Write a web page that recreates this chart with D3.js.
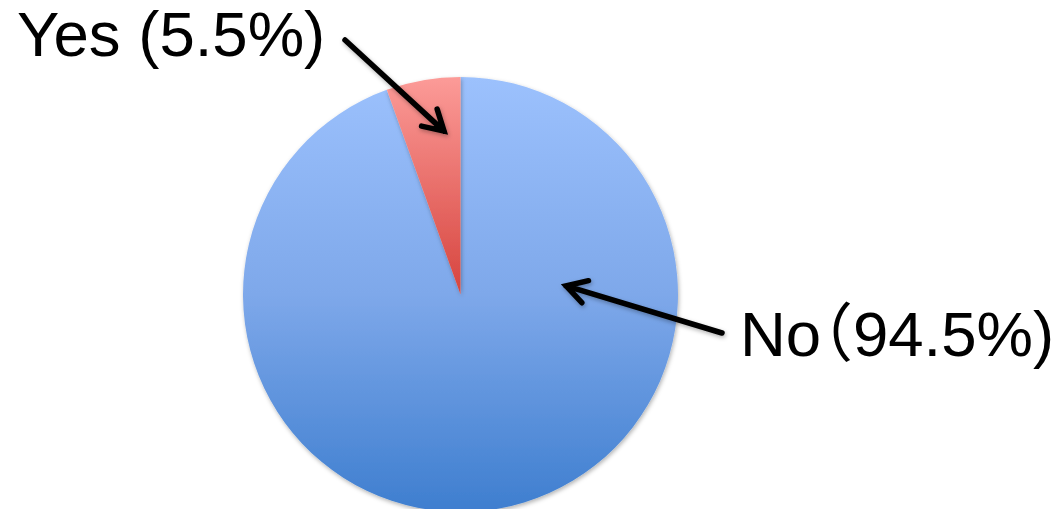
<!DOCTYPE html>
<html>
<head>
<meta charset="utf-8">
<script src="https://cdn.jsdelivr.net/npm/d3@7"></script>
<style>
  html, body { margin: 0; padding: 0; background: #ffffff; }
  svg { display: block; }
  .halt { font-feature-settings: "halt" 1; }
</style>
</head>
<body>
<svg id="chart" width="1059" height="509"></svg>
<script>
// ---- data ----
const categories = ["No", "Yes"];
const values = [94.5, 5.5];
const labels = ["No", "Yes"];

// ---- layout ----
const W = 1059, H = 509;
const cx = 460.5, cy = 294.5, R = 217.5;

const svg = d3.select("#chart");
const defs = svg.append("defs");

// gradients (blue spans the whole pie, in the translated group's user space)
const gBlue = defs.append("linearGradient").attr("id", "gBlue")
  .attr("gradientUnits", "userSpaceOnUse")
  .attr("x1", 0).attr("y1", -R).attr("x2", 0).attr("y2", R);
gBlue.append("stop").attr("offset", "0%").attr("stop-color", "#9cc1fd");
gBlue.append("stop").attr("offset", "50%").attr("stop-color", "#7ea8ea");
gBlue.append("stop").attr("offset", "100%").attr("stop-color", "#3e7ecf");

const gRed = defs.append("linearGradient").attr("id", "gRed")
  .attr("x1", 0).attr("y1", 0).attr("x2", 0).attr("y2", 1);
gRed.append("stop").attr("offset", "0%").attr("stop-color", "#fc9b98");
gRed.append("stop").attr("offset", "100%").attr("stop-color", "#d6443e");

const shadow = defs.append("filter").attr("id", "shadow")
  .attr("x", "-20%").attr("y", "-20%").attr("width", "140%").attr("height", "140%");
shadow.append("feDropShadow").attr("dx", 1).attr("dy", 2).attr("stdDeviation", 2)
  .attr("flood-color", "#000").attr("flood-opacity", 0.3);

const fills = { "No": "url(#gBlue)", "Yes": "url(#gRed)" };

const pie = d3.pie().sort(null).value(d => d.v);
const arc = d3.arc().innerRadius(0).outerRadius(R);
const data = categories.map((c, i) => ({ c, v: values[i] }));

const g = svg.append("g").attr("transform", `translate(${cx},${cy})`);
g.selectAll("path.slice").data(pie(data)).enter().append("path")
  .attr("class", "slice")
  .attr("d", arc)
  .attr("fill", d => fills[d.data.c])
  .attr("filter", "url(#shadow)");

// ---- annotations: tip given in polar (angle rad, radius fraction), tail in px ----
const annotations = [
  { tipAngle: -0.1005, tipR: 0.755, tail: [345, 40] },
  { tipAngle: 1.490, tipR: 0.487, tail: [722, 333] }
];

const arrows = svg.append("g").attr("filter", "url(#shadow)");
annotations.forEach(a => {
  const tx = cx + Math.sin(a.tipAngle) * a.tipR * R;
  const ty = cy - Math.cos(a.tipAngle) * a.tipR * R;
  const [sx, sy] = a.tail;
  const ang = Math.atan2(sy - ty, sx - tx);
  const L = 23, half = 30 * Math.PI / 180;
  const p1 = [tx + L * Math.cos(ang - half), ty + L * Math.sin(ang - half)];
  const p2 = [tx + L * Math.cos(ang + half), ty + L * Math.sin(ang + half)];
  const path = d3.path();
  path.moveTo(sx, sy); path.lineTo(tx, ty);
  path.moveTo(p1[0], p1[1]); path.lineTo(tx, ty); path.lineTo(p2[0], p2[1]);
  arrows.append("path").attr("d", path.toString())
    .attr("fill", "none").attr("stroke", "#000").attr("stroke-width", 5.5)
    .attr("stroke-linecap", "round").attr("stroke-linejoin", "miter");
});

// ---- labels ----
const font = "'Liberation Sans', 'Noto Sans CJK JP', Arial, sans-serif";
const yesIdx = categories.indexOf("Yes"), noIdx = categories.indexOf("No");

svg.append("text")
  .attr("x", 17).attr("y", 56)
  .attr("font-family", font).attr("font-size", 63.5).attr("fill", "#000")
  .text(`${labels[yesIdx]} (${values[yesIdx]}%)`);

svg.append("text")
  .attr("class", "halt")
  .attr("x", 740).attr("y", 356)
  .attr("font-family", font).attr("font-size", 63.5).attr("fill", "#000")
  .text(`${labels[noIdx]}（${values[noIdx]}%)`);
</script>
</body>
</html>
